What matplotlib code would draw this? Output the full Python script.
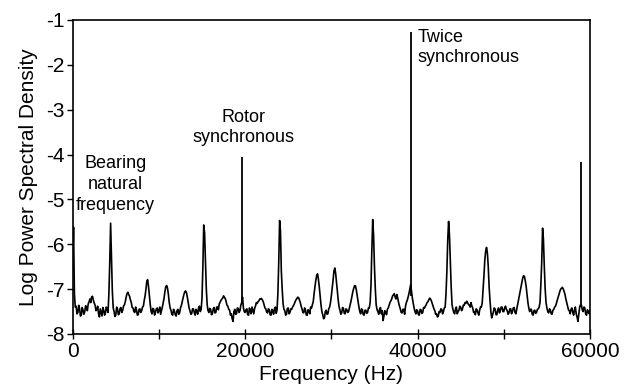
import numpy as np
import matplotlib
matplotlib.use("Agg")
import matplotlib.pyplot as plt

plt.rcParams['font.family'] = ['Liberation Sans', 'DejaVu Sans']
plt.rcParams['axes.unicode_minus'] = False

# spectrum trace, one value every 100 Hz from 0 to 60000 Hz (20 values per row = 2000 Hz)
freq_step = 100
log_psd = [
    -6.60, -5.62, -7.10, -7.40, -7.38, -7.55, -7.52, -7.36, -7.44, -7.60, -7.58, -7.41, -7.47, -7.56, -7.50, -7.37, -7.40, -7.48, -7.33, -7.28,
    -7.22, -7.30, -7.17, -7.16, -7.25, -7.31, -7.36, -7.48, -7.45, -7.38, -7.55, -7.62, -7.44, -7.52, -7.60, -7.41, -7.47, -7.58, -7.53, -7.40,
    -7.45, -7.52, -7.10, -6.40, -5.53, -6.30, -7.05, -7.42, -7.50, -7.61, -7.58, -7.40, -7.44, -7.57, -7.55, -7.43, -7.41, -7.52, -7.47, -7.38,
    -7.35, -7.28, -7.18, -7.10, -7.07, -7.12, -7.16, -7.24, -7.30, -7.41, -7.42, -7.50, -7.52, -7.40, -7.46, -7.58, -7.57, -7.45, -7.44, -7.52,
    -7.48, -7.40, -7.38, -7.25, -7.15, -7.00, -6.82, -6.79, -6.95, -7.15, -7.35, -7.50, -7.55, -7.43, -7.45, -7.58, -7.52, -7.44, -7.42, -7.53,
    -7.47, -7.40, -7.56, -7.48, -7.40, -7.30, -7.20, -7.05, -6.95, -6.92, -6.98, -7.12, -7.30, -7.42, -7.47, -7.56, -7.58, -7.45, -7.49, -7.57,
    -7.60, -7.48, -7.45, -7.56, -7.53, -7.42, -7.37, -7.28, -7.20, -7.12, -7.06, -7.04, -7.08, -7.18, -7.30, -7.42, -7.48, -7.56, -7.55, -7.44,
    -7.44, -7.52, -7.58, -7.45, -7.49, -7.56, -7.42, -7.38, -7.50, -7.45, -7.20, -6.50, -5.57, -5.75, -6.40, -7.00, -7.35, -7.48, -7.52, -7.43,
    -7.45, -7.57, -7.55, -7.44, -7.41, -7.53, -7.52, -7.40, -7.40, -7.46, -7.33, -7.29, -7.25, -7.22, -7.20, -7.15, -7.18, -7.21, -7.28, -7.36,
    -7.38, -7.45, -7.47, -7.58, -7.55, -7.66, -7.72, -7.50, -7.45, -7.56, -7.55, -7.42, -7.43, -7.52, -7.48, -7.36, -7.30, -7.18, -7.42, -7.50,
    -7.52, -7.46, -7.44, -7.57, -7.58, -7.42, -7.47, -7.55, -7.40, -7.48, -7.55, -7.43, -7.38, -7.30, -7.32, -7.28, -7.26, -7.22, -7.22, -7.21,
    -7.24, -7.28, -7.35, -7.42, -7.44, -7.51, -7.53, -7.44, -7.46, -7.57, -7.58, -7.45, -7.48, -7.56, -7.44, -7.40, -7.54, -7.47, -7.10, -6.40,
    -5.47, -5.70, -6.60, -7.00, -7.32, -7.45, -7.48, -7.58, -7.56, -7.43, -7.42, -7.55, -7.52, -7.44, -7.45, -7.40, -7.37, -7.33, -7.28, -7.24,
    -7.21, -7.18, -7.19, -7.24, -7.30, -7.38, -7.44, -7.52, -7.53, -7.42, -7.46, -7.58, -7.58, -7.46, -7.48, -7.55, -7.40, -7.42, -7.35, -7.28,
    -7.10, -6.95, -6.80, -6.70, -6.66, -6.78, -6.95, -7.15, -7.35, -7.50, -7.57, -7.66, -7.64, -7.50, -7.47, -7.56, -7.55, -7.44, -7.40, -7.30,
    -7.15, -6.98, -6.80, -6.60, -6.53, -6.65, -6.85, -7.05, -7.25, -7.40, -7.47, -7.56, -7.53, -7.41, -7.43, -7.54, -7.55, -7.44, -7.46, -7.52,
    -7.50, -7.42, -7.35, -7.25, -7.15, -7.05, -6.98, -6.92, -6.93, -7.02, -7.15, -7.28, -7.40, -7.50, -7.55, -7.44, -7.46, -7.57, -7.58, -7.47,
    -7.47, -7.54, -7.52, -7.42, -7.42, -7.30, -6.90, -6.10, -5.45, -5.80, -6.50, -7.00, -7.35, -7.46, -7.50, -7.56, -7.44, -7.41, -7.55, -7.48,
    -7.70, -7.60, -7.48, -7.52, -7.57, -7.45, -7.42, -7.36, -7.30, -7.26, -7.22, -7.15, -7.13, -7.10, -7.18, -7.22, -7.12, -7.20, -7.30, -7.38,
    -7.44, -7.52, -7.53, -7.45, -7.45, -7.56, -7.38, -7.30, -7.25, -7.18, -7.10, -7.00, -6.90, -7.05, -7.20, -7.32, -7.42, -7.50, -7.55, -7.46,
    -7.48, -7.57, -7.58, -7.45, -7.46, -7.54, -7.52, -7.41, -7.42, -7.38, -7.35, -7.30, -7.28, -7.24, -7.20, -7.22, -7.26, -7.32, -7.38, -7.44,
    -7.48, -7.56, -7.55, -7.62, -7.60, -7.50, -7.52, -7.44, -7.45, -7.55, -7.50, -7.42, -7.40, -7.10, -6.60, -5.90, -5.49, -5.80, -6.40, -6.95,
    -7.35, -7.45, -7.52, -7.55, -7.44, -7.40, -7.55, -7.50, -7.47, -7.38, -7.40, -7.48, -7.45, -7.36, -7.36, -7.30, -7.32, -7.27, -7.30, -7.34,
    -7.36, -7.40, -7.30, -7.38, -7.42, -7.52, -7.50, -7.57, -7.44, -7.46, -7.53, -7.58, -7.47, -7.40, -7.40, -7.30, -7.00, -6.70, -6.35, -6.15,
    -6.07, -6.20, -6.50, -6.95, -7.25, -7.50, -7.64, -7.58, -7.50, -7.42, -7.45, -7.57, -7.57, -7.46, -7.42, -7.53, -7.48, -7.40, -7.40, -7.50,
    -7.50, -7.42, -7.38, -7.45, -7.48, -7.56, -7.53, -7.44, -7.44, -7.55, -7.50, -7.42, -7.41, -7.52, -7.55, -7.45, -7.35, -7.25, -7.15, -7.05,
    -6.95, -6.85, -6.75, -6.70, -6.72, -6.82, -6.95, -7.12, -7.30, -7.42, -7.50, -7.45, -7.45, -7.56, -7.58, -7.48, -7.47, -7.54, -7.52, -7.45,
    -7.44, -7.40, -7.30, -6.90, -6.40, -5.64, -5.90, -6.50, -7.00, -7.30, -7.42, -7.50, -7.53, -7.44, -7.46, -7.55, -7.56, -7.47, -7.45, -7.40,
    -7.38, -7.32, -7.25, -7.18, -7.12, -7.05, -7.00, -6.98, -6.96, -7.00, -7.05, -7.12, -7.22, -7.30, -7.38, -7.46, -7.48, -7.55, -7.45, -7.42,
    -7.52, -7.58, -7.46, -7.40, -7.55, -7.62, -7.72, -7.55, -7.40, -7.35, -7.35, -7.46, -7.50, -7.40, -7.42, -7.56, -7.58, -7.46, -7.50, -7.55,
    -7.48,
]

# narrow synchronous lines drawn as single strokes
spike_freq = [19690, 39240, 58920]
spike_base = [-7.30, -7.15, -7.40]
spike_top = [-4.06, -1.27, -4.17]

y_ticks = [-8, -7, -6, -5, -4, -3, -2, -1]
x_ticks = [0, 20000, 40000, 60000]
x_minor = [10000, 30000, 50000]

freq = np.arange(len(log_psd)) * freq_step

fig = plt.figure(figsize=(6.26, 3.91), dpi=100)
ax = fig.add_axes([0.1161, 0.1458, 0.8264, 0.8031])

ax.plot(freq, log_psd, color='black', linewidth=1.2)
ax.vlines(spike_freq, spike_base, spike_top, color='black', linewidth=1.3)

ax.set_xlim(0, 60000)
ax.set_ylim(-8, -1)
ax.set_xticks(x_ticks)
ax.set_xticks(x_minor, minor=True)
ax.set_xticklabels([str(t) for t in x_ticks])
ax.set_yticks(y_ticks)
ax.set_yticklabels([str(t) for t in y_ticks])
ax.tick_params(axis='x', which='both', direction='inout', length=7, width=1, labelsize=15, pad=2)
ax.tick_params(axis='y', direction='out', length=4, width=1, labelsize=15, pad=2)
for s in ax.spines.values():
    s.set_linewidth(1.2)

ax.set_xlabel('Frequency (Hz)', fontsize=15, labelpad=3)
ax.set_ylabel('Log Power Spectral Density', fontsize=15, labelpad=6)

# annotations
ax.text(4960, -4.02, 'Bearing\nnatural\nfrequency', ha='center', va='top', fontsize=13, linespacing=1.3)
ax.text(19820, -2.975, 'Rotor\nsynchronous', ha='center', va='top', fontsize=13, linespacing=1.3)
ax.text(40050, -1.19, 'Twice\nsynchronous', ha='left', va='top', fontsize=13, linespacing=1.3)

plt.savefig('out.png', dpi=100)
